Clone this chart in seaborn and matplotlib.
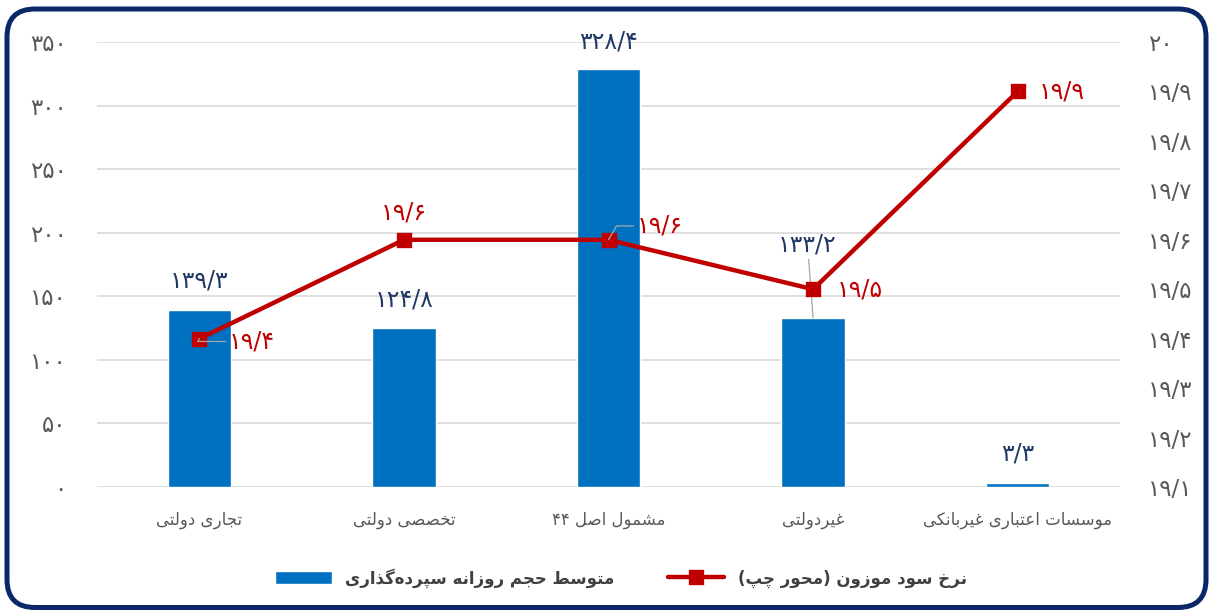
import re
import numpy as np
import matplotlib
matplotlib.use("Agg")
import matplotlib.pyplot as plt
from matplotlib.patches import FancyBboxPatch
import seaborn as sns

# data
categories = ["تجاری دولتی", "تخصصی دولتی", "مشمول اصل ۴۴", "غیردولتی", "موسسات اعتباری غیربانکی"]
deposits = [139.3, 124.8, 328.4, 133.2, 3.3]
rates = [19.4, 19.6, 19.6, 19.5, 19.9]
left_ticks = [0, 50, 100, 150, 200, 250, 300, 350]
right_ticks = [19.1, 19.2, 19.3, 19.4, 19.5, 19.6, 19.7, 19.8, 19.9, 20.0]
bar_label = "متوسط حجم روزانه سپرده‌گذاری"
line_label = "نرخ سود موزون (محور چپ)"

BLUE = "#0070C0"
RED = "#C00000"
NAVY = "#1F3864"
GRAY = "#595959"

# minimal arabic/persian shaping (matplotlib has no shaping of its own)
# letter: (isolated, final, initial, medial); right-joining letters have no initial/medial
FORMS = {
    "ا": ("\uFE8D", "\uFE8E", None, None),
    "ب": ("\uFE8F", "\uFE90", "\uFE91", "\uFE92"),
    "پ": ("\uFB56", "\uFB57", "\uFB58", "\uFB59"),
    "ت": ("\uFE95", "\uFE96", "\uFE97", "\uFE98"),
    "ج": ("\uFE9D", "\uFE9E", "\uFE9F", "\uFEA0"),
    "چ": ("\uFB7A", "\uFB7B", "\uFB7C", "\uFB7D"),
    "ح": ("\uFEA1", "\uFEA2", "\uFEA3", "\uFEA4"),
    "خ": ("\uFEA5", "\uFEA6", "\uFEA7", "\uFEA8"),
    "د": ("\uFEA9", "\uFEAA", None, None),
    "ذ": ("\uFEAB", "\uFEAC", None, None),
    "ر": ("\uFEAD", "\uFEAE", None, None),
    "ز": ("\uFEAF", "\uFEB0", None, None),
    "ژ": ("\uFB8A", "\uFB8B", None, None),
    "س": ("\uFEB1", "\uFEB2", "\uFEB3", "\uFEB4"),
    "ش": ("\uFEB5", "\uFEB6", "\uFEB7", "\uFEB8"),
    "ص": ("\uFEB9", "\uFEBA", "\uFEBB", "\uFEBC"),
    "ط": ("\uFEC1", "\uFEC2", "\uFEC3", "\uFEC4"),
    "ع": ("\uFEC9", "\uFECA", "\uFECB", "\uFECC"),
    "غ": ("\uFECD", "\uFECE", "\uFECF", "\uFED0"),
    "ف": ("\uFED1", "\uFED2", "\uFED3", "\uFED4"),
    "ق": ("\uFED5", "\uFED6", "\uFED7", "\uFED8"),
    "ک": ("\uFB8E", "\uFB8F", "\uFB90", "\uFB91"),
    "گ": ("\uFB92", "\uFB93", "\uFB94", "\uFB95"),
    "ل": ("\uFEDD", "\uFEDE", "\uFEDF", "\uFEE0"),
    "م": ("\uFEE1", "\uFEE2", "\uFEE3", "\uFEE4"),
    "ن": ("\uFEE5", "\uFEE6", "\uFEE7", "\uFEE8"),
    "ه": ("\uFEE9", "\uFEEA", "\uFEEB", "\uFEEC"),
    "و": ("\uFEED", "\uFEEE", None, None),
    "ی": ("\uFBFC", "\uFBFD", "\uFBFE", "\uFBFF"),
}


def fa(text):
    out = []
    for i, c in enumerate(text):
        if c not in FORMS:
            out.append(c)
            continue
        prev = text[i - 1] if i > 0 else ""
        nxt = text[i + 1] if i + 1 < len(text) else ""
        join_prev = prev in FORMS and FORMS[prev][2] is not None
        join_next = nxt in FORMS and FORMS[c][2] is not None
        iso, fin, ini, med = FORMS[c]
        if join_prev and join_next:
            out.append(med)
        elif join_prev:
            out.append(fin)
        elif join_next:
            out.append(ini)
        else:
            out.append(iso)
    s = "".join(out).replace("\u200c", "")
    runs = re.findall(r"[۰-۹/]+|[^۰-۹/]", s)[::-1]
    mirror = {"(": ")", ")": "("}
    return "".join(mirror.get(r, r) for r in runs)


def fa_num(v, dec=1):
    s = f"{v:.{dec}f}".rstrip("0").rstrip(".") if dec else f"{v:.0f}"
    return s.translate(str.maketrans("0123456789.", "۰۱۲۳۴۵۶۷۸۹/"))


sns.set_style("white")
plt.rcParams["font.family"] = ["DejaVu Sans"]

fig = plt.figure(figsize=(12.14, 6.10), dpi=100)
ax = fig.add_axes([0.080, 0.2016, 0.8425, 0.7295])
ax2 = ax.twinx()

cats = [fa(c) for c in categories]
sns.barplot(x=cats, y=deposits, ax=ax, color=BLUE, width=0.31, saturation=1, zorder=2)
sns.pointplot(x=cats, y=rates, ax=ax2, color=RED, markers="s", markersize=9,
              linewidth=3.2, errorbar=None)
for a in (ax, ax2):
    if a.get_legend() is not None:
        a.get_legend().remove()

ax.set_xlim(-0.5, len(cats) - 0.5)
ax.set_ylim(0, 350)
ax.set_yticks(left_ticks)
ax.set_yticklabels([fa_num(t, 0) for t in left_ticks])
ax2.set_ylim(19.1, 20.0)
ax2.set_yticks(right_ticks)
ax2.set_yticklabels([fa_num(t) for t in right_ticks])

ax.yaxis.grid(True, color="#D9D9D9", lw=1.2, zorder=0)
ax.set_axisbelow(True)
for a in (ax, ax2):
    for sp in a.spines.values():
        sp.set_visible(False)
    a.set_xlabel("")
    a.set_ylabel("")
ax.tick_params(axis="y", length=0, pad=22, labelsize=16.5, labelcolor=GRAY)
ax2.tick_params(axis="y", length=0, pad=20, labelsize=16.5, labelcolor=GRAY)
ax.tick_params(axis="x", length=0, pad=17, labelsize=12, labelcolor=GRAY)
ax2.tick_params(axis="x", length=0)

leader = dict(arrowstyle="-", color="#A6A6A6", lw=0.9, shrinkA=0, shrinkB=0)

# bar value labels (offsets in points)
bar_offsets = [(0, 21), (0, 21), (0, 20), (-4, 53), (0, 21)]
for i, (v, off) in enumerate(zip(deposits, bar_offsets)):
    ax.annotate(fa_num(v), xy=(i, v), xytext=off, textcoords="offset points",
                ha="center", va="center", fontsize=17, color=NAVY,
                arrowprops=leader if off[1] > 30 else None)

# line value labels, some with short leaders
line_offsets = [(38, -2), (0, 20), (37, 10), (34, 0), (32, 0)]
line_leaders = [True, False, True, False, False]
for i, (v, off, ld) in enumerate(zip(rates, line_offsets, line_leaders)):
    lp = dict(leader, relpos=(0, 0.5), connectionstyle="angle,angleA=0,angleB=60,rad=0") if ld else None
    ax2.annotate(fa_num(v), xy=(i, v), xytext=off, textcoords="offset points",
                 ha="center", va="center", fontsize=17, color=RED, zorder=5,
                 arrowprops=lp)

handles = [ax.patches[0], ax2.lines[0]]
fig.legend(handles, [fa(bar_label), fa(line_label)], loc="center",
           bbox_to_anchor=(0.5115, 0.053), ncol=2, frameon=False,
           handlelength=3.4, handleheight=0.9, columnspacing=3.2,
           prop={"size": 12, "weight": "bold"}, labelcolor="#404040")

# rounded navy frame
frame = FancyBboxPatch((0.07, 0.025), 11.99, 5.985, boxstyle="round,pad=0,rounding_size=0.28",
                       transform=fig.dpi_scale_trans, fill=False, ec="#0B2767", lw=3.6)
fig.patches.append(frame)

fig.savefig("out.png", dpi=100)
